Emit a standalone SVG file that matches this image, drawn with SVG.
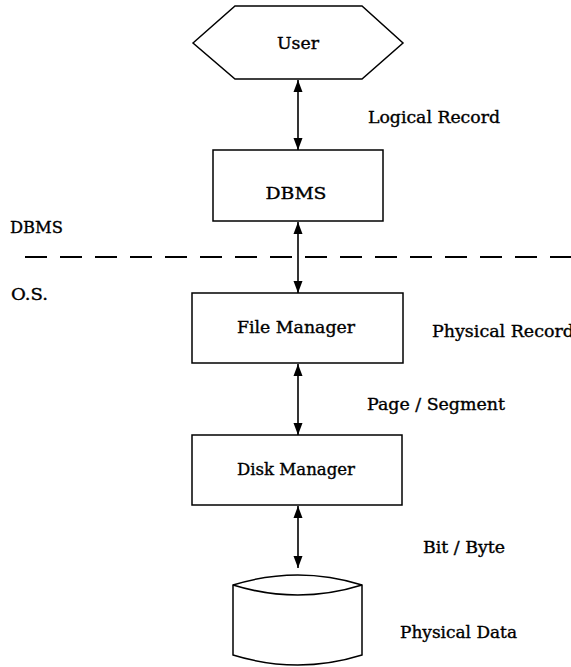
<svg xmlns="http://www.w3.org/2000/svg" width="571" height="667" viewBox="0 0 571 667">
<style>
.shape{fill:#fff;stroke:#000;stroke-width:1.5}
.conn{stroke:#000;stroke-width:1.6;fill:none}
.t{font-family:"DejaVu Serif","Liberation Serif",serif;font-size:16px;fill:#000;stroke:#000;stroke-width:0.35}
.c{text-anchor:middle}
</style>
<defs>
<marker id="ah" viewBox="0 0 12 10" refX="12" refY="5" markerWidth="12" markerHeight="10" markerUnits="userSpaceOnUse" orient="auto-start-reverse">
<path d="M0,0.5 L12,5 L0,9.5 Z" fill="#000"/>
</marker>
</defs>
<rect width="571" height="667" fill="#fff"/>
<g id="user">
<polygon class="shape" points="193,43 235,6 362,6 403,43 362,79 235,79"/>
<text class="t c" x="298" y="49" textLength="42" lengthAdjust="spacingAndGlyphs">User</text>
</g>
<g id="dbms">
<rect class="shape" x="213" y="150" width="170" height="71"/>
<text class="t c" x="296" y="199" textLength="61" lengthAdjust="spacingAndGlyphs">DBMS</text>
</g>
<g id="file-manager">
<rect class="shape" x="192" y="293" width="211" height="70"/>
<text class="t c" x="296" y="333" textLength="118" lengthAdjust="spacingAndGlyphs">File  Manager</text>
</g>
<g id="disk-manager">
<rect class="shape" x="192" y="435" width="210" height="70"/>
<text class="t c" x="296" y="475" textLength="118" lengthAdjust="spacingAndGlyphs">Disk  Manager</text>
</g>
<g id="physical-data">
<path class="shape" d="M233,585 Q298,565 362,585 L362,655 Q298,675 233,655 Z"/>
<path class="conn" stroke-width="1.5" d="M233,585 Q298,605 362,585"/>
</g>
<g id="boundary">
<line x1="25" y1="257" x2="571" y2="257" stroke="#000" stroke-width="2" stroke-dasharray="22,13"/>
<text class="t" x="10" y="233" textLength="53" lengthAdjust="spacingAndGlyphs">DBMS</text>
<text class="t" x="11" y="300" textLength="37" lengthAdjust="spacingAndGlyphs">O.S.</text>
</g>
<g id="connectors">
<line class="conn" x1="298" y1="80" x2="298" y2="150" marker-start="url(#ah)" marker-end="url(#ah)"/>
<line class="conn" x1="298" y1="222" x2="298" y2="293" marker-start="url(#ah)" marker-end="url(#ah)"/>
<line class="conn" x1="298" y1="364" x2="298" y2="435" marker-start="url(#ah)" marker-end="url(#ah)"/>
<line class="conn" x1="298" y1="506" x2="298" y2="568" marker-start="url(#ah)" marker-end="url(#ah)"/>
</g>
<g id="labels">
<text class="t" x="368" y="123" textLength="132" lengthAdjust="spacingAndGlyphs">Logical Record</text>
<text class="t" x="432" y="337" textLength="142" lengthAdjust="spacingAndGlyphs">Physical Record</text>
<text class="t" x="367" y="410" textLength="138" lengthAdjust="spacingAndGlyphs">Page / Segment</text>
<text class="t" x="423" y="553" textLength="82" lengthAdjust="spacingAndGlyphs">Bit / Byte</text>
<text class="t" x="400" y="638" textLength="117" lengthAdjust="spacingAndGlyphs">Physical Data</text>
</g>
</svg>
